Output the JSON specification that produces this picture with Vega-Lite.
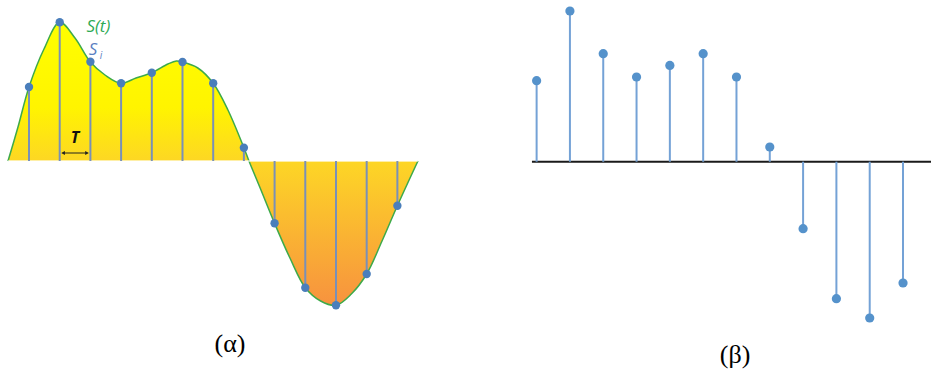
{
  "$schema": "https://vega.github.io/schema/vega-lite/v6.json",
  "padding": 0,
  "spacing": 10,
  "bounds": "flush",
  "background": "white",
  "config": {"view": {"stroke": null}},
  "datasets": {
    "curve": [
      {"t": -0.684, "s": 0}, {"t": -0.359, "s": 0.34}, {"t": 0, "s": 0.74}, {"t": 0.488, "s": 1.12},
      {"t": 1, "s": 1.387}, {"t": 1.498, "s": 1.23}, {"t": 2, "s": 0.99}, {"t": 2.475, "s": 0.86},
      {"t": 3, "s": 0.777}, {"t": 3.485, "s": 0.83}, {"t": 4, "s": 0.883}, {"t": 4.527, "s": 0.97},
      {"t": 4.8, "s": 1.0}, {"t": 5, "s": 0.99}, {"t": 5.5, "s": 0.93}, {"t": 6, "s": 0.777},
      {"t": 6.48, "s": 0.51}, {"t": 7, "s": 0.133}, {"t": 7.166, "s": 0}, {"t": 7.53, "s": -0.27},
      {"t": 8, "s": -0.623}, {"t": 8.5, "s": -0.97}, {"t": 9, "s": -1.267}, {"t": 9.5, "s": -1.4},
      {"t": 10, "s": -1.443}, {"t": 10.5, "s": -1.33}, {"t": 11, "s": -1.13}, {"t": 11.5, "s": -0.8},
      {"t": 12, "s": -0.447}, {"t": 12.67, "s": 0}
    ],
    "samples": [
      {"t": 0, "s": 0.74, "z": 0}, {"t": 1, "s": 1.387, "z": 0}, {"t": 2, "s": 0.993, "z": 0}, {"t": 3, "s": 0.777, "z": 0},
      {"t": 4, "s": 0.883, "z": 0}, {"t": 5, "s": 0.99, "z": 0}, {"t": 6, "s": 0.777, "z": 0}, {"t": 7, "s": 0.133, "z": 0},
      {"t": 8, "s": -0.623, "z": 0}, {"t": 9, "s": -1.267, "z": 0}, {"t": 10, "s": -1.443, "z": 0}, {"t": 11, "s": -1.13, "z": 0},
      {"t": 12, "s": -0.447, "z": 0}
    ],
    "leftText": [
      {"t": 2.26, "s": 1.34, "label": "S(t)", "kind": "st"},
      {"t": 2.085, "s": 1.11, "label": "S", "kind": "si"},
      {"t": 2.345, "s": 1.05, "label": "i", "kind": "sub"},
      {"t": 1.498, "s": 0.235, "label": "T", "kind": "T"},
      {"t": 6.547, "s": -1.83, "label": "(α)", "kind": "cap"}
    ],
    "arrowLine": [{"a": 1.1, "b": 1.9, "s": 0.08}],
    "arrowHeads": [
      {"t": 1.11, "s": 0.08, "dir": "left"},
      {"t": 1.89, "s": 0.08, "dir": "right"}
    ],
    "discrete": [
      {"n": 0, "v": 0.81, "z": 0}, {"n": 1, "v": 1.507, "z": 0}, {"n": 2, "v": 1.08, "z": 0}, {"n": 3, "v": 0.847, "z": 0},
      {"n": 4, "v": 0.963, "z": 0}, {"n": 5, "v": 1.08, "z": 0}, {"n": 6, "v": 0.847, "z": 0}, {"n": 7, "v": 0.147, "z": 0},
      {"n": 8, "v": -0.67, "z": 0}, {"n": 9, "v": -1.37, "z": 0}, {"n": 10, "v": -1.563, "z": 0}, {"n": 11, "v": -1.213, "z": 0}
    ],
    "rightText": [
      {"n": 5.958, "v": -1.933, "label": "(β)"}
    ],
    "axisLeft": [{"a": -0.684, "b": 12.67, "z": 0}],
    "axisRight": [{"a": -0.14, "b": 11.84, "z": 0}]
  },
  "hconcat": [
    {
      "width": 460,
      "height": 376,
      "encoding": {
        "x": {"field": "t", "type": "quantitative", "scale": {"domain": [-0.945, 14.04], "nice": false, "zero": false}, "axis": null},
        "y": {"field": "s", "type": "quantitative", "scale": {"domain": [-2.15, 1.61], "nice": false, "zero": false}, "axis": null}
      },
      "layer": [
        {
          "data": {"name": "curve"},
          "mark": {
            "type": "area",
            "interpolate": "catmull-rom",
            "fill": {
              "gradient": "linear", "x1": 0, "y1": 0, "x2": 0, "y2": 1,
              "stops": [
                {"offset": 0, "color": "#FFFF00"},
                {"offset": 0.3, "color": "#FFF400"},
                {"offset": 0.5, "color": "#FDD526"},
                {"offset": 1, "color": "#F7923F"}
              ]
            }
          }
        },
        {
          "data": {"name": "curve"},
          "mark": {"type": "line", "interpolate": "catmull-rom", "stroke": "#3DAA4A", "strokeWidth": 1.5}
        },
        {
          "data": {"name": "axisLeft"},
          "mark": {"type": "rule", "stroke": "white", "strokeWidth": 1.5, "opacity": 0.8},
          "encoding": {
            "x": {"field": "a", "type": "quantitative"},
            "x2": {"field": "b"},
            "y": {"field": "z", "type": "quantitative"}
          }
        },
        {
          "data": {"name": "samples"},
          "mark": {"type": "rule", "stroke": "#7990B8", "strokeWidth": 2},
          "encoding": {
            "y2": {"field": "z"}
          }
        },
        {
          "data": {"name": "samples"},
          "mark": {"type": "circle", "fill": "#4A7EBB", "opacity": 1, "size": 70}
        },
        {
          "data": {"name": "arrowLine"},
          "mark": {"type": "rule", "stroke": "#222222", "strokeWidth": 1},
          "encoding": {
            "x": {"field": "a", "type": "quantitative"},
            "x2": {"field": "b"}
          }
        },
        {
          "data": {"name": "arrowHeads"},
          "mark": {"type": "point", "filled": true, "fill": "#222222", "opacity": 1, "size": 18},
          "encoding": {
            "shape": {"field": "dir", "type": "nominal", "scale": {"domain": ["left", "right"], "range": ["triangle-left", "triangle-right"]}, "legend": null}
          }
        },
        {
          "data": {"name": "leftText"},
          "transform": [{"filter": "datum.kind == 'st'"}],
          "mark": {"type": "text", "font": "Open Sans", "fontStyle": "italic", "fontSize": 17, "fill": "#2DAA55", "align": "center", "baseline": "middle"},
          "encoding": {"text": {"field": "label"}}
        },
        {
          "data": {"name": "leftText"},
          "transform": [{"filter": "datum.kind == 'si'"}],
          "mark": {"type": "text", "font": "Open Sans", "fontStyle": "italic", "fontSize": 17, "fill": "#5B7FC2", "align": "center", "baseline": "middle"},
          "encoding": {"text": {"field": "label"}}
        },
        {
          "data": {"name": "leftText"},
          "transform": [{"filter": "datum.kind == 'sub'"}],
          "mark": {"type": "text", "font": "Open Sans", "fontStyle": "italic", "fontSize": 10, "fill": "#5B7FC2", "align": "center", "baseline": "middle"},
          "encoding": {"text": {"field": "label"}}
        },
        {
          "data": {"name": "leftText"},
          "transform": [{"filter": "datum.kind == 'T'"}],
          "mark": {"type": "text", "font": "Open Sans", "fontStyle": "italic", "fontWeight": "bold", "fontSize": 16, "fill": "#111111", "align": "center", "baseline": "middle"},
          "encoding": {"text": {"field": "label"}}
        },
        {
          "data": {"name": "leftText"},
          "transform": [{"filter": "datum.kind == 'cap'"}],
          "mark": {"type": "text", "font": "Liberation Serif", "fontSize": 26, "fill": "#000000", "align": "center", "baseline": "middle"},
          "encoding": {"text": {"field": "label"}}
        }
      ]
    },
    {
      "width": 461,
      "height": 376,
      "encoding": {
        "x": {"field": "n", "type": "quantitative", "scale": {"domain": [-2.0, 11.84], "nice": false, "zero": false}, "axis": null},
        "y": {"field": "v", "type": "quantitative", "scale": {"domain": [-2.143, 1.617], "nice": false, "zero": false}, "axis": null}
      },
      "layer": [
        {
          "data": {"name": "axisRight"},
          "mark": {"type": "rule", "stroke": "#1A1A1A", "strokeWidth": 2},
          "encoding": {
            "x": {"field": "a", "type": "quantitative"},
            "x2": {"field": "b"},
            "y": {"field": "z", "type": "quantitative"}
          }
        },
        {
          "data": {"name": "discrete"},
          "mark": {"type": "rule", "stroke": "#74A2D6", "strokeWidth": 2},
          "encoding": {"y2": {"field": "z"}}
        },
        {
          "data": {"name": "discrete"},
          "mark": {"type": "circle", "fill": "#5592CB", "opacity": 1, "size": 85}
        },
        {
          "data": {"name": "rightText"},
          "mark": {"type": "text", "font": "Liberation Serif", "fontSize": 26, "fill": "#000000", "align": "center", "baseline": "middle"},
          "encoding": {"text": {"field": "label"}}
        }
      ]
    }
  ]
}
